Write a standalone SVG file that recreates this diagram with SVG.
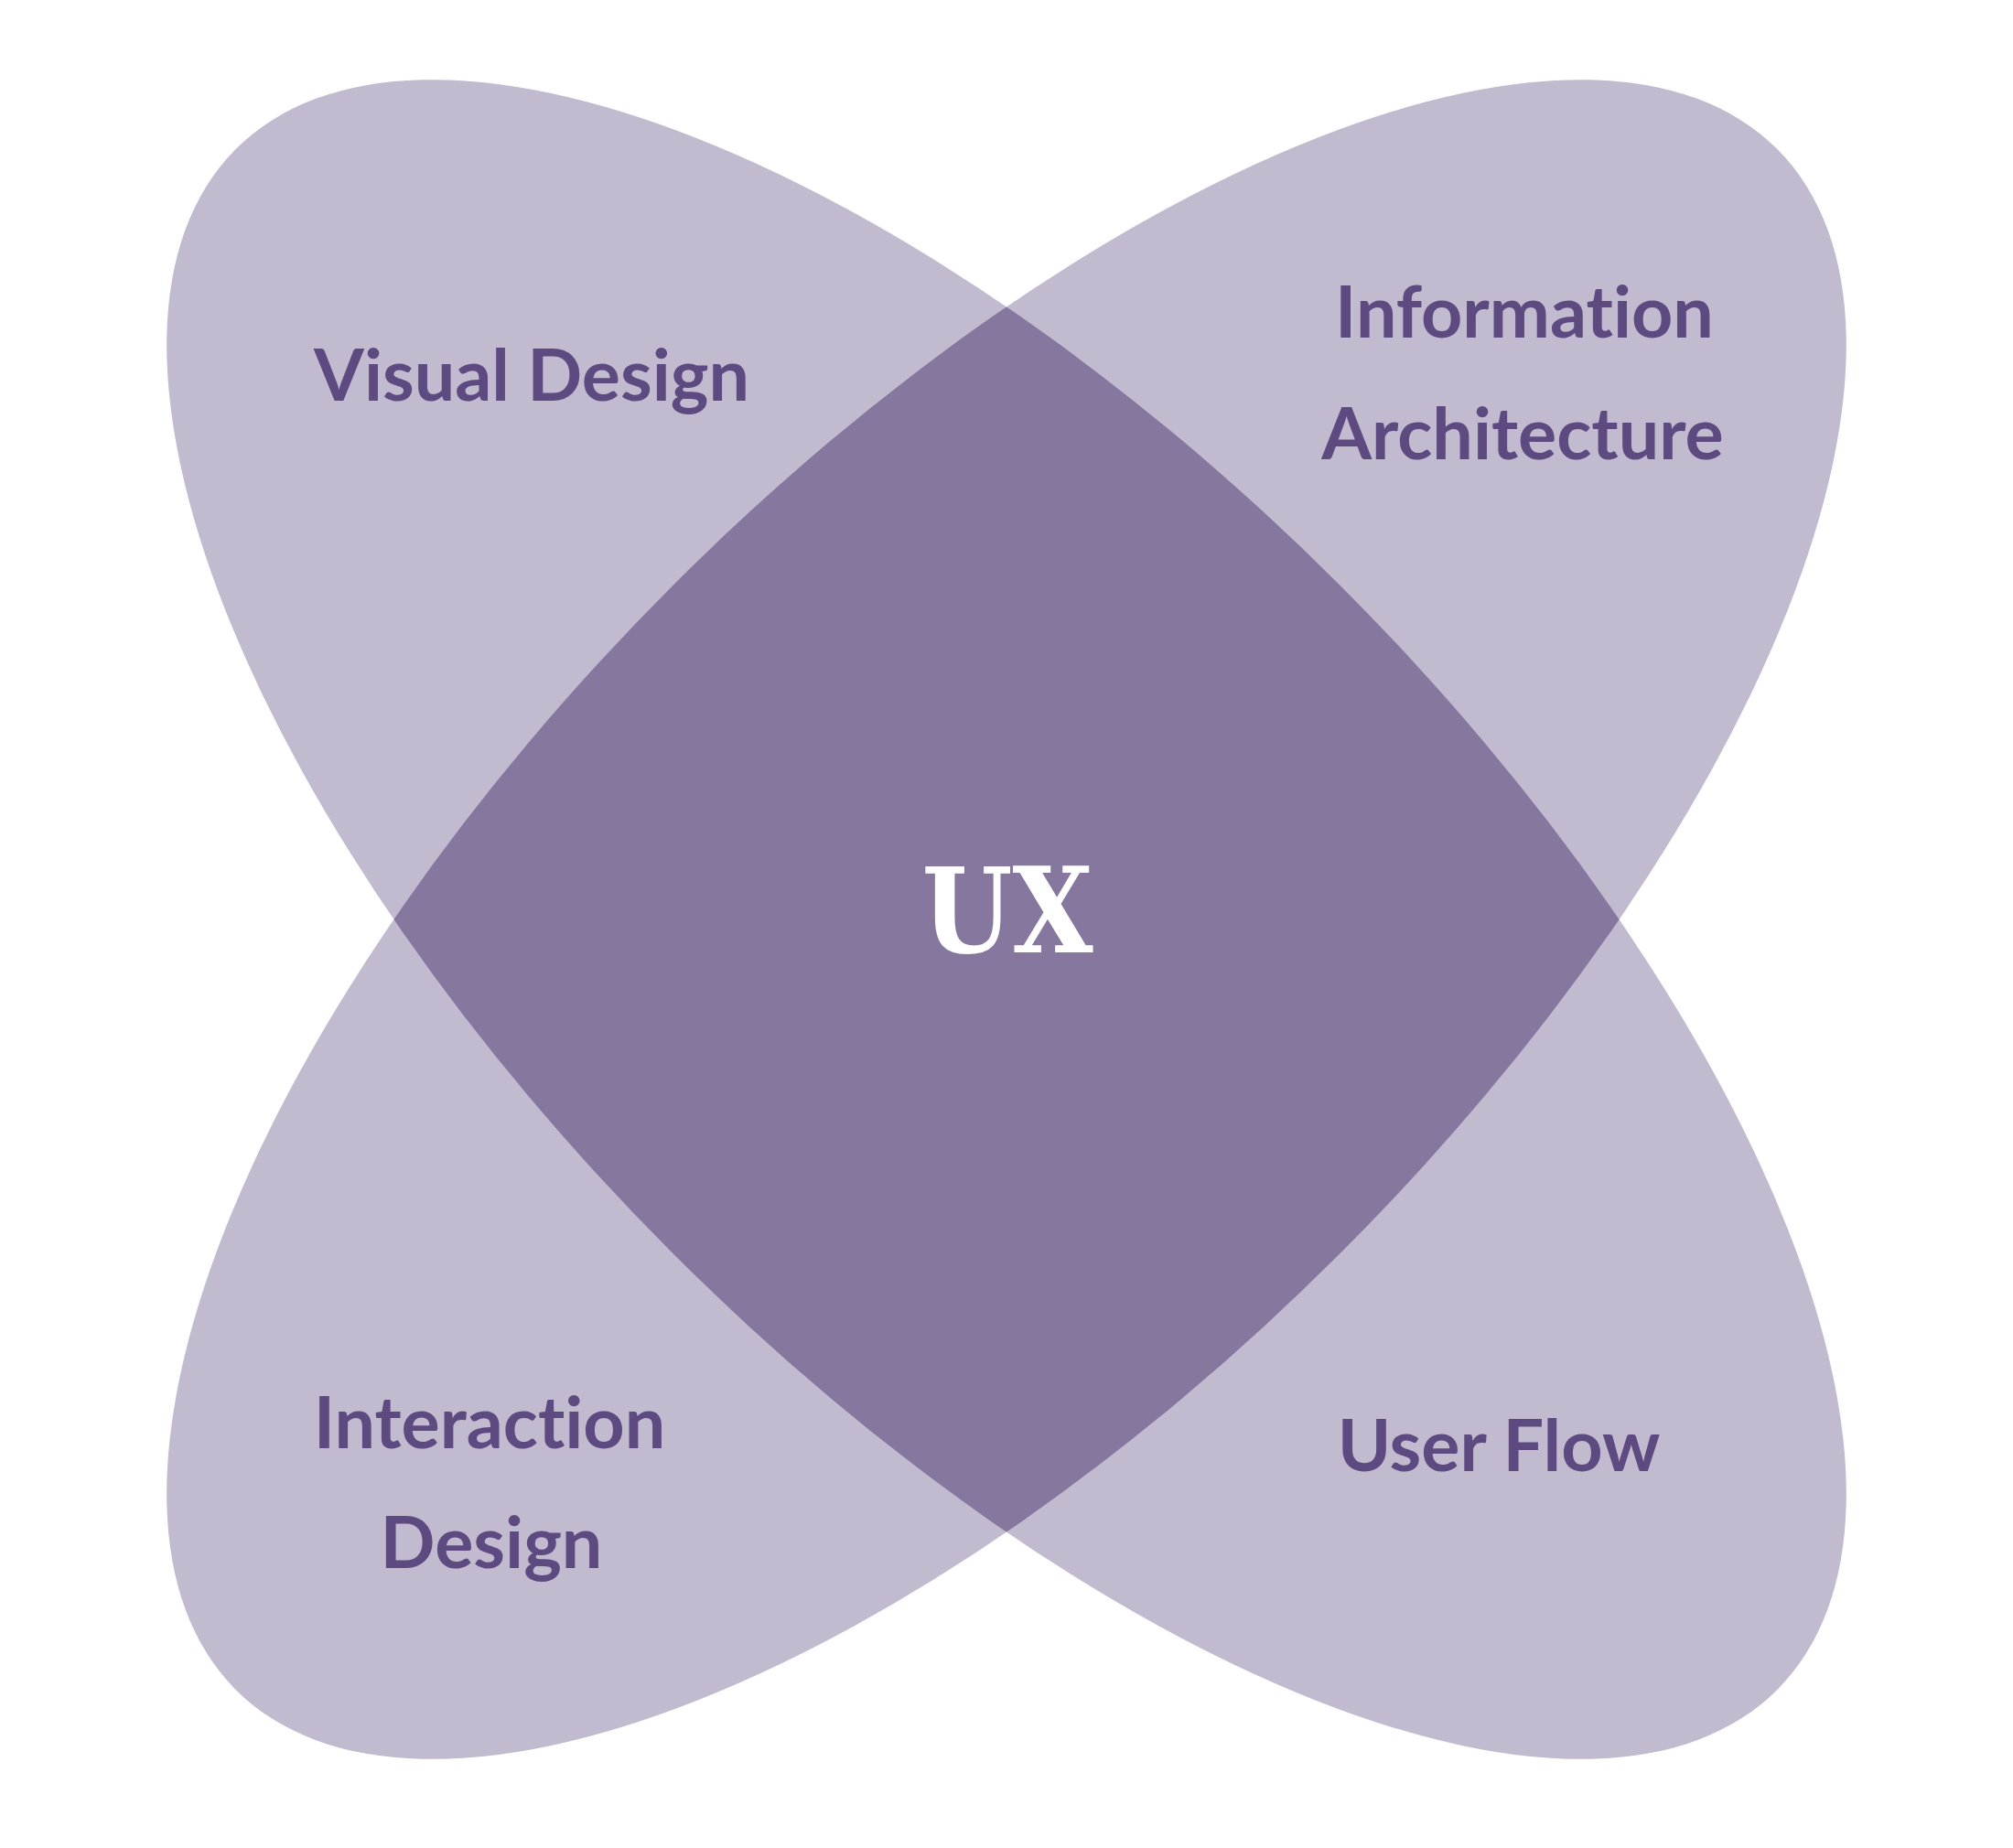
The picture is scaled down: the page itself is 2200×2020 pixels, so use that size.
<svg xmlns="http://www.w3.org/2000/svg" width="2200" height="2020" viewBox="0 0 2200 2020">
<style>
.lobe{fill:#c2bacf}
.core{fill:#86779f}
.lbl{font-family:Lato,"Noto Sans","Liberation Sans",sans-serif;font-weight:700;font-size:79px;fill:#5d4a80;text-anchor:middle;font-variant-ligatures:none;font-feature-settings:"liga" 0,"clig" 0,"dlig" 0}
.ux{font-family:"DejaVu Serif","Liberation Serif",serif;font-weight:700;font-size:130px;fill:#ffffff;text-anchor:middle}
</style>
<defs>
<ellipse id="lobeShape" cx="1100" cy="1005" rx="1191" ry="516"/>
<clipPath id="clipA"><use href="#lobeShape" transform="rotate(45 1100 1005)"/></clipPath>
</defs>
<rect width="2200" height="2020" fill="#ffffff"/>
<g id="lobe-tl-br"><use class="lobe" href="#lobeShape" transform="rotate(45 1100 1005)"/></g>
<g id="lobe-tr-bl"><use class="lobe" href="#lobeShape" transform="rotate(-45 1100 1005)"/></g>
<g id="overlap" clip-path="url(#clipA)"><use class="core" href="#lobeShape" transform="rotate(-45 1100 1005)"/></g>
<g id="visual-design"><text class="lbl" x="581" y="438">Visual Design</text></g>
<g id="information-architecture"><text class="lbl" x="1666" y="369">Information</text><text class="lbl" x="1664" y="502">Architecture</text></g>
<g id="ux"><text class="ux" x="1101" y="1041" textLength="187" lengthAdjust="spacingAndGlyphs">UX</text></g>
<g id="interaction-design"><text class="lbl" x="535" y="1583">Interaction</text><text class="lbl" x="537" y="1714">Design</text></g>
<g id="user-flow"><text class="lbl" x="1638" y="1608">User Flow</text></g>
<g id="connectors"></g>
</svg>
